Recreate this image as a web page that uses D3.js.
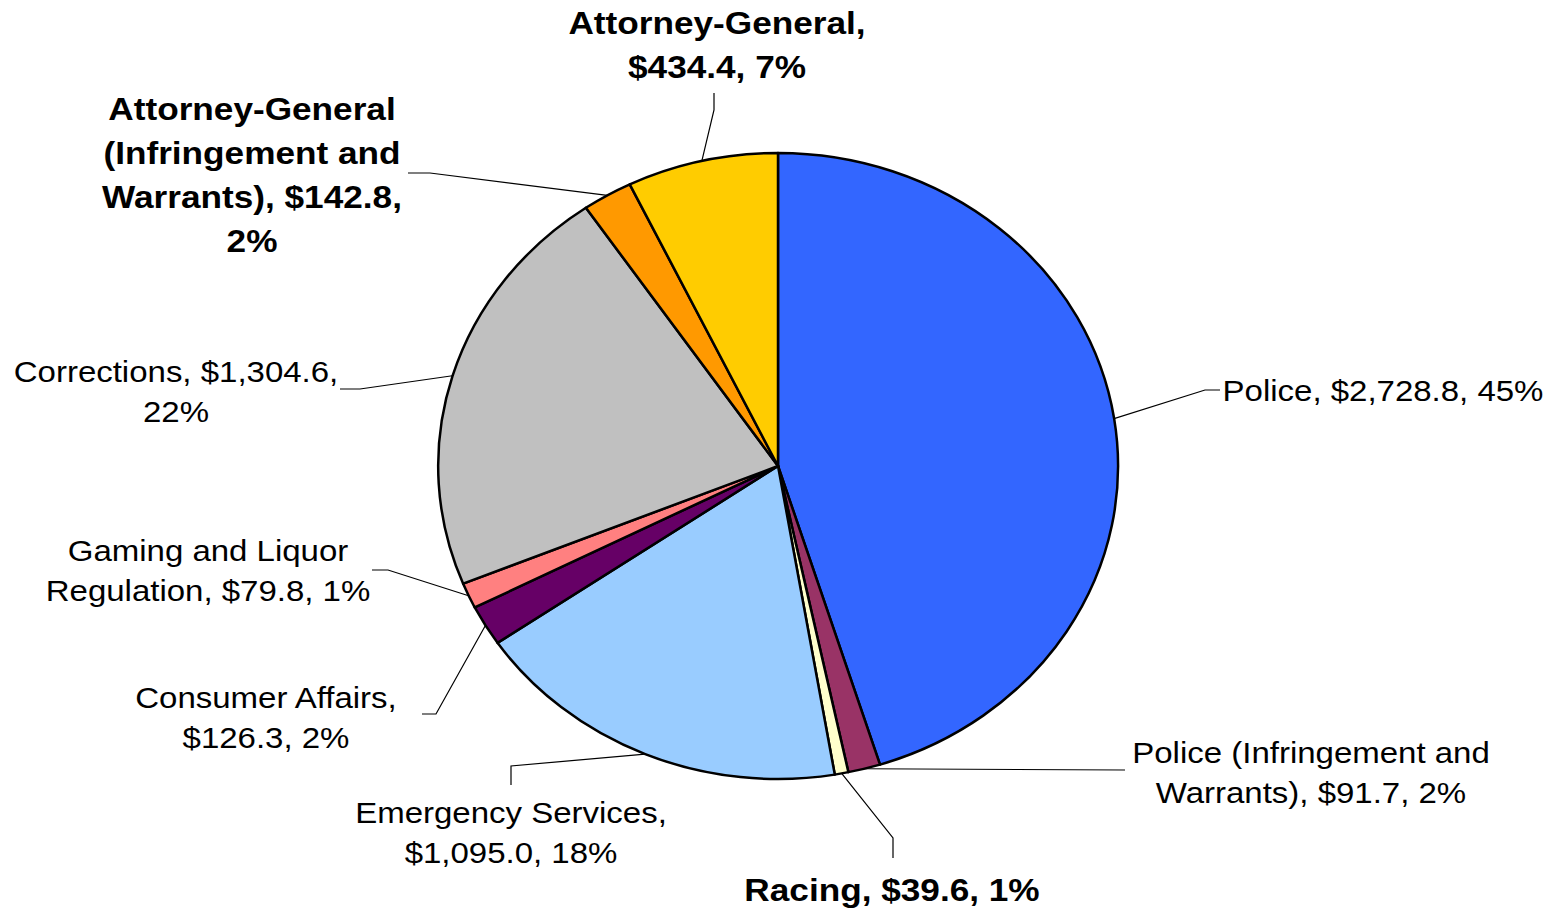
<!DOCTYPE html>
<html>
<head>
<meta charset="utf-8">
<script src="https://cdn.jsdelivr.net/npm/d3@7"></script>
<style>
  body { margin: 0; background: #fff; }
  text { font-family: "Liberation Sans", Arial, sans-serif; fill: #000; }
</style>
</head>
<body>
<script>
// chart data, clockwise from 12 o'clock
var categories = ["Police", "Police (Infringement and Warrants)", "Racing", "Emergency Services",
  "Consumer Affairs", "Gaming and Liquor Regulation", "Corrections",
  "Attorney-General (Infringement and Warrants)", "Attorney-General"];
var values = [2728.8, 91.7, 39.6, 1095.0, 126.3, 79.8, 1304.6, 142.8, 434.4];
var colors = ["#3366ff", "#993366", "#ffffcc", "#99ccff", "#660066", "#ff8080", "#c0c0c0", "#ff9900", "#ffcc00"];
var boldLabels = [false, false, true, false, false, false, false, true, true];
var labelLines = [
  ["Police, $2,728.8, 45%"],
  ["Police (Infringement and", "Warrants), $91.7, 2%"],
  ["Racing, $39.6, 1%"],
  ["Emergency Services,", "$1,095.0, 18%"],
  ["Consumer Affairs,", "$126.3, 2%"],
  ["Gaming and Liquor", "Regulation, $79.8, 1%"],
  ["Corrections, $1,304.6,", "22%"],
  ["Attorney-General", "(Infringement and", "Warrants), $142.8,", "2%"],
  ["Attorney-General,", "$434.4, 7%"]
];

// layout: label centre (first line) and leader line points after the slice edge
var labelPos = [[1383, 390], [1311, 752], [892, 889], [511, 812], [266, 697],
  [208, 550], [176, 371], [252, 108], [717, 22]];
var leaderPts = [
  [[1205, 390], [1220, 390]],
  [[1125, 770]],
  [[893, 838], [893, 858]],
  [[511, 766], [511, 785]],
  [[436, 714], [422, 714]],
  [[388, 570], [372, 570]],
  [[360, 389], [340, 389]],
  [[430, 173], [408, 173]],
  [[714, 110], [714, 93]]
];

var W = 1557, H = 909;
var cx = 778, cy = 466, rx = 340, ry = 313;
var stretch = 1.1;

var svg = d3.select("body").append("svg")
  .attr("width", W)
  .attr("height", H);

var data = categories.map(function(c, i) { return { name: c, value: values[i], i: i }; });

var pie = d3.pie()
  .sort(null)
  .value(function(d) { return d.value; });

var arcs = pie(data);

var arc = d3.arc()
  .innerRadius(0)
  .outerRadius(1);

var g = svg.append("g")
  .attr("transform", "translate(" + cx + "," + cy + ") scale(" + rx + "," + ry + ")");

g.selectAll("path")
  .data(arcs)
  .enter().append("path")
  .attr("d", arc)
  .attr("fill", function(d) { return colors[d.data.i]; })
  .attr("stroke", "#000")
  .attr("stroke-width", 2.5)
  .attr("stroke-linejoin", "round")
  .attr("vector-effect", "non-scaling-stroke");

// leader lines
var line = d3.line();
arcs.forEach(function(d) {
  var a = (d.startAngle + d.endAngle) / 2;
  var start = [cx + Math.sin(a) * rx, cy - Math.cos(a) * ry];
  svg.append("path")
    .attr("d", line([start].concat(leaderPts[d.data.i])))
    .attr("fill", "none")
    .attr("stroke", "#000")
    .attr("stroke-width", 1.2);
});

// labels
arcs.forEach(function(d) {
  var i = d.data.i;
  var bold = boldLabels[i];
  var fs = bold ? 32 : 30;
  var lh = bold ? 44 : 40;
  var lg = svg.append("g")
    .attr("transform", "translate(" + labelPos[i][0] + "," + labelPos[i][1] + ") scale(" + stretch + ",1)");
  labelLines[i].forEach(function(t, k) {
    lg.append("text")
      .attr("x", 0)
      .attr("y", k * lh + fs * 0.36)
      .attr("text-anchor", "middle")
      .style("font-size", fs + "px")
      .style("font-weight", bold ? "bold" : "normal")
      .text(t);
  });
});
</script>
</body>
</html>
